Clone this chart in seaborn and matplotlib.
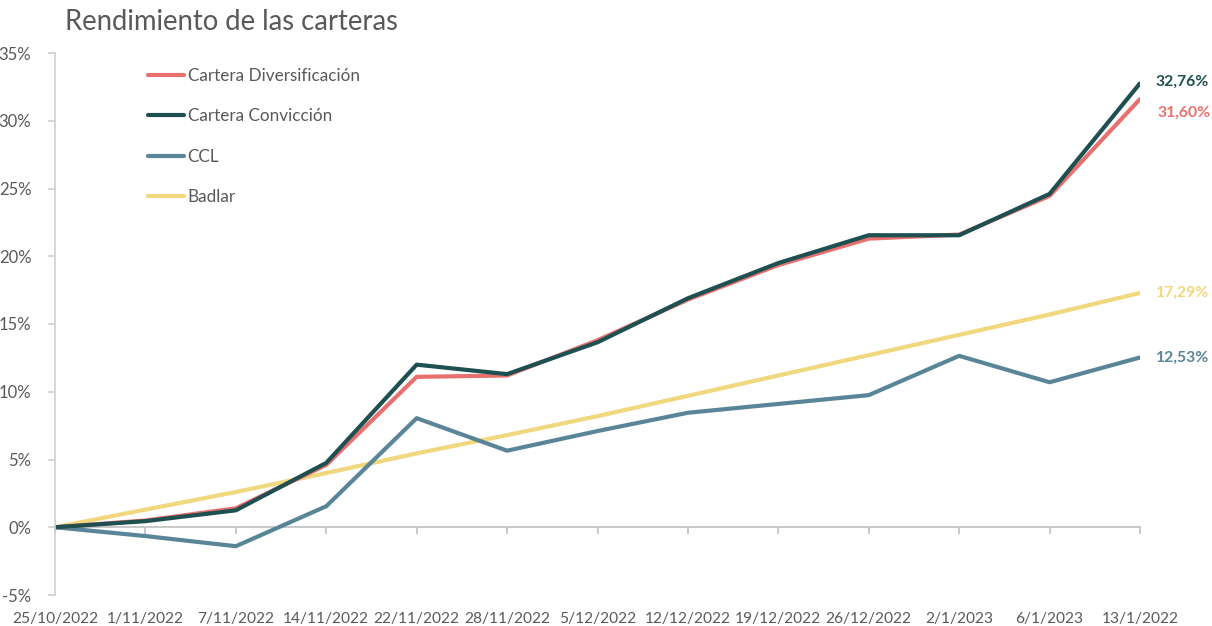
import matplotlib
matplotlib.use("Agg")
import matplotlib.pyplot as plt
import seaborn as sns
import pandas as pd
import numpy as np

fechas = ["25/10/2022", "1/11/2022", "7/11/2022", "14/11/2022", "22/11/2022",
          "28/11/2022", "5/12/2022", "12/12/2022", "19/12/2022", "26/12/2022",
          "2/1/2023", "6/1/2023", "13/1/2022"]
diversificacion = [0.0, 0.5, 1.4, 4.6, 11.1, 11.2, 13.8, 16.8, 19.35, 21.3, 21.6, 24.45, 31.60]
conviccion = [0.0, 0.45, 1.25, 4.75, 12.0, 11.3, 13.65, 16.9, 19.5, 21.55, 21.55, 24.6, 32.76]
ccl = [0.0, -0.65, -1.4, 1.55, 8.05, 5.65, 7.1, 8.45, 9.1, 9.75, 12.65, 10.7, 12.53]
badlar = [0.0, 1.3, 2.6, 4.0, 5.45, 6.8, 8.2, 9.7, 11.2, 12.7, 14.2, 15.7, 17.29]

series = ["Cartera Diversificación", "Cartera Convicción", "CCL", "Badlar"]
colores = ["#E8716F", "#1E4F51", "#5A8598", "#F1D77D"]
etiquetas_fin = ["31,60%", "32,76%", "12,53%", "17,29%"]
offsets_fin = [(18, -14), (16, 2), (16, 0), (16, 0)]

df = pd.DataFrame({
    "idx": list(range(len(fechas))) * 4,
    "valor": diversificacion + conviccion + ccl + badlar,
    "serie": sum([[s] * len(fechas) for s in series], []),
})

sns.set_style("white")
plt.rcParams["font.family"] = ["Lato", "DejaVu Sans"]

fig = plt.figure(figsize=(12.12, 6.26), dpi=100)
ax = fig.add_axes([55 / 1212, 1 - 595 / 626, (1140 - 55) / 1212, (595 - 53) / 626])

order_draw = ["Badlar", "CCL", "Cartera Diversificación", "Cartera Convicción"]
pal = dict(zip(series, colores))
for s in order_draw:
    sns.lineplot(data=df[df.serie == s], x="idx", y="valor", color=pal[s],
                 lw=3.0, ax=ax, label=s, legend=False)

gray = "#595959"
axis_gray = "#D0D0D0"
ax.set_xlim(0, len(fechas) - 1)
ax.set_ylim(-5, 35)
ax.set_yticks(np.arange(-5, 36, 5))
ax.set_yticklabels([f"{v}%" for v in range(-5, 36, 5)])
ax.set_xticks(range(len(fechas)))
ax.set_xticklabels(fechas)
ax.set_xlabel("")
ax.set_ylabel("")

for sp in ["top", "right"]:
    ax.spines[sp].set_visible(False)
ax.spines["left"].set_color(axis_gray)
ax.spines["left"].set_linewidth(1.2)
ax.spines["bottom"].set_position(("data", 0))
ax.spines["bottom"].set_color("#BFBFBF")
ax.spines["bottom"].set_linewidth(1.2)
ax.spines["bottom"].set_zorder(0.5)

ax.tick_params(axis="y", direction="out", length=5, width=1.2, color=axis_gray,
               labelsize=12, labelcolor=gray, pad=12, left=True)
ax.tick_params(axis="x", direction="out", length=5, width=1.2, color="#BFBFBF",
               labelsize=11.2, labelcolor=gray, pad=56, bottom=True)

vals = dict(zip(series, [diversificacion, conviccion, ccl, badlar]))
for s, txt, off in zip(series, etiquetas_fin, offsets_fin):
    ax.annotate(txt, xy=(len(fechas) - 1, vals[s][-1]), xytext=off,
                textcoords="offset pixels", color=pal[s], fontsize=11.3,
                fontweight="bold", ha="left", va="center", annotation_clip=False)

handles = [plt.Line2D([], [], color=pal[s], lw=3.0) for s in series]
leg = ax.legend(handles, series, loc="upper left", bbox_to_anchor=(0.086, 0.972),
                frameon=False, fontsize=12.3, handlelength=2.1, handletextpad=0.2,
                labelspacing=1.42, borderaxespad=0, borderpad=0)
for t in leg.get_texts():
    t.set_color(gray)

fig.text(65 / 1212, 1 - 22 / 626, "Rendimiento de las carteras", fontsize=19.8,
         color=gray, ha="left", va="center", family=["Lato", "DejaVu Sans"])

fig.savefig("out.png", dpi=100)
